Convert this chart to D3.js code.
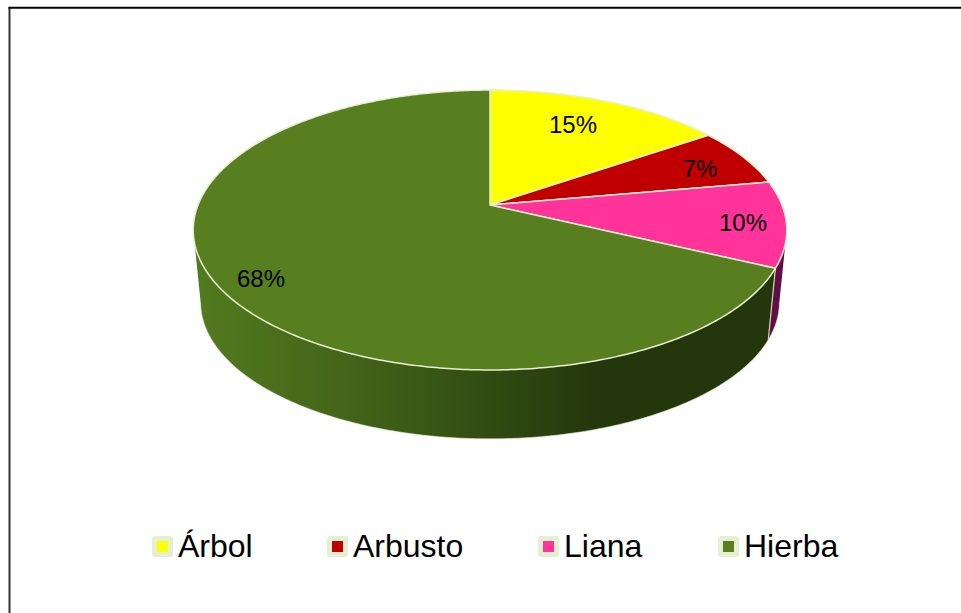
<!DOCTYPE html>
<html><head><meta charset="utf-8">
<script src="https://cdn.jsdelivr.net/npm/d3@7/dist/d3.min.js"></script>
<style>html,body{margin:0;padding:0;background:#fff}svg{display:block}text{font-family:"Liberation Sans",Arial,sans-serif;fill:#000}</style>
</head><body><div id="c"></div>
<script>
const categories = ["Árbol","Arbusto","Liana","Hierba"];
const values = [15.4,6.8,9.9,67.9];
const labels = ["15%","7%","10%","68%"];
const colors = ["#ffff00","#c00000","#ff3399","#587f1f"];
const sideColors = [null,null,"#630d44",null];

const W=961,H=613;
const svg=d3.select("#c").append("svg").attr("width",W).attr("height",H);
const defs=svg.append("defs");
const grad=defs.append("linearGradient").attr("id","sideG").attr("gradientUnits","userSpaceOnUse")
  .attr("x1",195).attr("x2",600).attr("y1",0).attr("y2",0);
[[0,"#527a1e"],[0.35,"#45661a"],[0.7,"#324e13"],[1,"#24360c"]].forEach(d=>grad.append("stop").attr("offset",d[0]).attr("stop-color",d[1]));

// perspective projection of a disc: a rim point at a fraction r of the radius
const K=50/280, A=292, B=135.5;
function projector(cx,cy,s){return (t,r=1)=>{const u=r*Math.sin(t),v=r*Math.cos(t),d=1+K*v;return [cx+s*A*u/d,cy-s*B*v/d];};}
const topP=projector(490,205,1), botP=projector(490,278,0.975);

const arcs=d3.pie().value(d=>d).sort(null).startAngle(0).endAngle(2*Math.PI)(values);
const samples=(a,b,n=Math.max(4,Math.ceil((b-a)*90)))=>d3.range(n+1).map(i=>a+(b-a)*i/n);

function sidePath(a,b){
  const ts=samples(a,b);let p="";
  for(let i=0;i<ts.length-1;i++){
    const q=[topP(ts[i]),topP(ts[i+1]),botP(ts[i+1]),botP(ts[i])];
    p+="M"+q.map(c=>c.join(",")).join("L")+"Z";
  }
  return p;
}
function topPath(a,b){
  return "M"+topP(0,0).join(",")+"L"+samples(a,b).map(t=>topP(t).join(",")).join("L")+"Z";
}
const line=(a,b)=>"M"+samples(a,b).map(t=>botP(t).join(",")).join("L");

// frame
svg.append("line").attr("x1",9.5).attr("x2",9.5).attr("y1",7).attr("y2",613).attr("stroke","#333").attr("stroke-width",2);
svg.append("line").attr("x1",8.5).attr("x2",961).attr("y1",7.7).attr("y2",7.7).attr("stroke","#000").attr("stroke-width",2);

const g=svg.append("g");
// sides, back to front; the side is visible only between the two silhouette angles
const pink=arcs[2];
const rightEdge=Math.acos(-K), leftEdge=2*Math.PI-Math.acos(-K);
g.append("path").attr("d",sidePath(rightEdge,pink.endAngle)).attr("fill",sideColors[2]);
g.append("path").attr("d",sidePath(pink.endAngle,leftEdge)).attr("fill","url(#sideG)");
g.append("path").attr("d",line(rightEdge,leftEdge)).attr("fill","none").attr("stroke","#dcebc4").attr("stroke-width",1).attr("opacity",0.6);
// cut edge between the pink and green sides
g.append("line").attr("x1",topP(pink.endAngle)[0]).attr("y1",topP(pink.endAngle)[1])
  .attr("x2",botP(pink.endAngle)[0]).attr("y2",botP(pink.endAngle)[1])
  .attr("stroke","#c9d6b2").attr("stroke-width",1.2);
// top faces
g.selectAll("path.top").data(arcs).enter().append("path").attr("class","top")
  .attr("d",d=>topPath(d.startAngle,d.endAngle))
  .attr("fill",(d,i)=>colors[i]).attr("stroke","#e6f0d2").attr("stroke-width",1.5).attr("stroke-linejoin","round");

// data labels
const labelX=[573,700,743,261], labelY=[133,177,231,287];
svg.selectAll("text.lab").data(labels).enter().append("text").attr("class","lab")
  .attr("x",(d,i)=>labelX[i]).attr("y",(d,i)=>labelY[i]).attr("text-anchor","middle")
  .attr("font-size",24).text(d=>d);

// legend
const legendX=[152,327,538,718];
const leg=svg.selectAll("g.leg").data(categories).enter().append("g").attr("class","leg")
  .attr("transform",(d,i)=>`translate(${legendX[i]},536)`);
leg.append("rect").attr("width",21).attr("height",21).attr("rx",3).attr("fill","#e4f0d0");
leg.append("rect").attr("x",5).attr("y",5).attr("width",11).attr("height",11).attr("fill",(d,i)=>colors[i]);
leg.append("text").attr("x",26).attr("y",21).attr("font-size",32).text(d=>d);
</script></body></html>
